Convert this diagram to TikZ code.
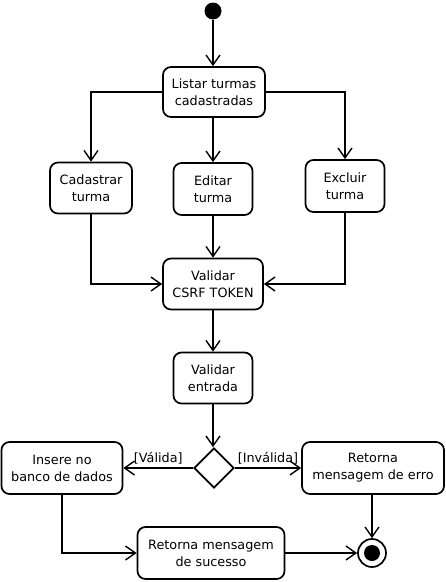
\documentclass[tikz,border=0pt]{standalone}
\usepackage{fontspec}
\setmainfont{DejaVu Sans}
\usetikzlibrary{arrows.meta,shapes.geometric}
\begin{document}
\begin{tikzpicture}[x=1pt,y=-1pt,
  act/.style={draw,line width=1.7pt,rounded corners=8pt,align=center,inner sep=0pt,font=\fontsize{12.8}{17}\selectfont},
  flow/.style={line width=1.7pt,-{Straight Barb[length=10pt,width=14pt,line width=1.4pt]}},
  lbl/.style={font=\fontsize{12.8}{15}\selectfont,inner sep=3pt}]
\useasboundingbox[fill=white] (0,0) rectangle (446,582);
\node[circle,fill,inner sep=0pt,minimum size=17pt] (start) at (213,11) {};
\node[act,minimum width=102pt,minimum height=50pt] (list) at (214,92) {Listar turmas\\cadastradas};
\node[act,minimum width=82pt,minimum height=51pt] (cad) at (91,188) {Cadastrar\\turma};
\node[act,minimum width=79pt,minimum height=52pt] (edit) at (213,189) {Editar\\turma};
\node[act,minimum width=79pt,minimum height=52pt] (exc) at (345,186) {Excluir\\turma};
\node[act,minimum width=100pt,minimum height=51pt] (csrf) at (213,284) {Validar\\CSRF TOKEN};
\node[act,minimum width=79pt,minimum height=51pt] (ent) at (213,378) {Validar\\entrada};
\node[diamond,draw,line width=1.7pt,minimum width=40pt,minimum height=40pt,inner sep=0pt] (dec) at (214,468) {};
\node[act,minimum width=121pt,minimum height=52pt] (ins) at (62,468) {Insere no\\banco de dados};
\node[act,minimum width=142pt,minimum height=52pt] (err) at (373,468) {Retorna\\mensagem de erro};
\node[act,minimum width=147pt,minimum height=52pt] (suc) at (211,553) {Retorna mensagem\\de sucesso};
\node[circle,draw,line width=1.7pt,minimum size=28pt,inner sep=0pt] (end) at (372,553) {};
\node[circle,fill,inner sep=0pt,minimum size=16pt] (endin) at (end.center) {};
\draw[flow] (start) -- (start |- list.north);
\draw[flow] (list.west) -| (cad.north);
\draw[flow] (list.south -| edit.north) -- (edit.north);
\draw[flow] (list.east) -| (exc.north);
\draw[flow] (cad.south) |- (csrf.west);
\draw[flow] (edit.south) -- (csrf.north -| edit.south);
\draw[flow] (exc.south) |- (csrf.east);
\draw[flow] (csrf.south -| ent.north) -- (ent.north);
\draw[flow] (ent.south) -- (ent.south |- dec.north);
\draw[flow] (dec.west) -- node[lbl,above] {[Válida]} (ins.east);
\draw[flow] (dec.east) -- node[lbl,above] {[Inválida]} (err.west);
\draw[flow] (ins.south) |- (suc.west);
\draw[flow] (suc.east) -- (suc.east -| end.west);
\draw[flow] (err.south -| end.north) -- (end.north);
\end{tikzpicture}
\end{document}
